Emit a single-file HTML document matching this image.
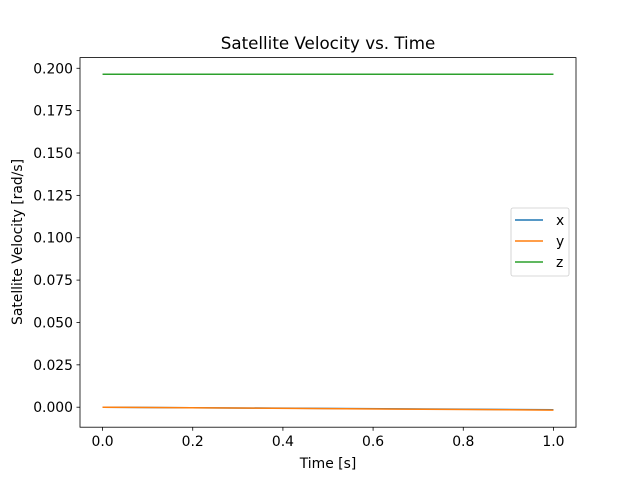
<!DOCTYPE html>
<html><head><meta charset="utf-8"><style>
body{margin:0;background:#fff;}
svg text{font-family:"DejaVu Sans","Liberation Sans",sans-serif;fill:#000;}
</style></head><body>
<svg id="chart" width="640" height="480" xmlns="http://www.w3.org/2000/svg">
<rect width="640" height="480" fill="#fff"/>
<g id="plot"></g>
<rect x="80" y="57.6" width="496" height="369.6" fill="none" stroke="#000" stroke-width="0.8"/>
<text x="328" y="49" font-size="16.7" text-anchor="middle">Satellite Velocity vs. Time</text>
<text x="328" y="468" font-size="13.9" text-anchor="middle">Time [s]</text>
<text transform="translate(22,242) rotate(-90)" font-size="13.9" text-anchor="middle">Satellite Velocity [rad/s]</text>
<g>
<rect x="511" y="208" width="58" height="68" rx="2" fill="#fff" fill-opacity="0.8" stroke="#ccc" stroke-width="0.8"/>
</g>
</svg>
<script>
const times=[0,1];
const seriesNames=['x','y','z'];
const xVals=[0,-0.0015];
const yVals=[0,-0.0017];
const zVals=[0.1965,0.1965];
const colors=['#1f77b4','#ff7f0e','#2ca02c'];
const xTicks=[0,0.2,0.4,0.6,0.8,1.0];
const yTicks=[0,0.025,0.05,0.075,0.1,0.125,0.15,0.175,0.2];
const L=80,R=576,T=57.6,B=427.2;
const xmin=-0.05,xmax=1.05,ymin=-0.0118,ymax=0.2063;
const sx=v=>L+(v-xmin)/(xmax-xmin)*(R-L);
const sy=v=>B-(v-ymin)/(ymax-ymin)*(B-T);
const NS='http://www.w3.org/2000/svg';
const svg=document.getElementById('chart');
const plot=document.getElementById('plot');
function mk(t,a,p){const e=document.createElementNS(NS,t);for(const k in a)e.setAttribute(k,a[k]);(p||svg).appendChild(e);return e;}
xTicks.forEach(v=>{
 const g=mk('g',{});
 
 
 mk('line',{x1:sx(v),x2:sx(v),y1:B,y2:B+3.5,stroke:'#000','stroke-width':0.8},g);
 const t=mk('text',{x:sx(v),y:B+19,'font-size':13.9,'text-anchor':'middle'},g);t.textContent=v.toFixed(1);
});
yTicks.forEach(v=>{
 const g=mk('g',{});
 
 
 mk('line',{x1:L-3.5,x2:L,y1:sy(v),y2:sy(v),stroke:'#000','stroke-width':0.8},g);
 const t=mk('text',{x:L-7,y:sy(v)+5,'font-size':13.9,'text-anchor':'end'},g);t.textContent=v.toFixed(3);
});
[xVals,yVals,zVals].forEach((vals,i)=>{
 const p=mk('polyline',{points:times.map((t,j)=>sx(t)+','+sy(vals[j])).join(' '),fill:'none',stroke:colors[i],'stroke-width':1.5},plot);
 
 
 const g=mk('g',{});
 
 
 const y=220+i*21;
 mk('line',{x1:515,x2:543,y1:y,y2:y,stroke:colors[i],'stroke-width':1.5},g);
 const t=mk('text',{x:556,y:y+5,'font-size':13.9},g);t.textContent=seriesNames[i];
});
</script>
</body></html>
